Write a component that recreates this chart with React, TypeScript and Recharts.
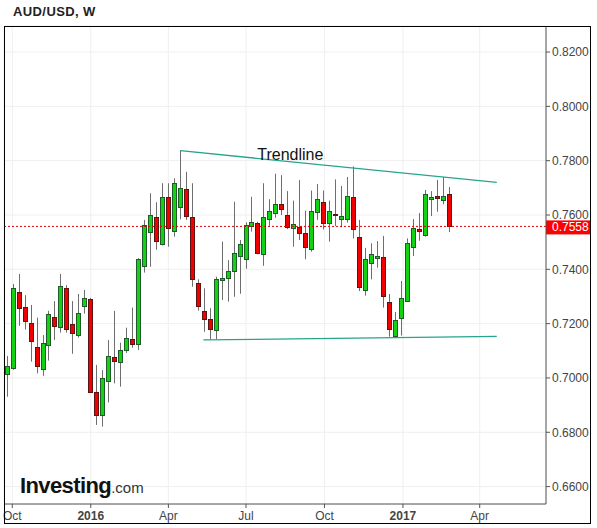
import React from 'react';
import {
  ComposedChart,
  Bar,
  XAxis,
  YAxis,
  CartesianGrid,
  ReferenceLine,
  ReferenceDot,
} from 'recharts';

// weekly candles, first week starts 25 Sep 2015
const firstWeek = Date.UTC(2015, 8, 25);
const WEEK = 7 * 86400000;

const opens = [
  0.7013, 0.7036, 0.7315, 0.726, 0.7201, 0.7113, 0.7032, 0.712, 0.7224, 0.7187,
  0.733, 0.7198, 0.7159, 0.7266, 0.729, 0.6947, 0.6862, 0.6988, 0.7076, 0.706,
  0.7102, 0.7142, 0.7124, 0.7411, 0.7536, 0.7591, 0.7493, 0.7665, 0.7541, 0.7628,
  0.7696, 0.7591, 0.7349, 0.7245, 0.7216, 0.7177, 0.736, 0.7367, 0.7393, 0.7448,
  0.7437, 0.7559, 0.7569, 0.7455, 0.7584, 0.7606, 0.7639, 0.7599, 0.7551, 0.7555,
  0.7533, 0.7476, 0.7611, 0.7648, 0.7569, 0.7604, 0.7586, 0.7584, 0.7666, 0.7518,
  0.7325, 0.7422, 0.7441, 0.7444, 0.7279, 0.7156, 0.722, 0.7284, 0.7483, 0.7547,
  0.7527, 0.766, 0.7669, 0.7654, 0.7676,
];
const highs = [
  0.7081, 0.7346, 0.7383, 0.7305, 0.7269, 0.7222, 0.7158, 0.7247, 0.7283, 0.7383,
  0.7342, 0.7283, 0.7309, 0.7324, 0.7295, 0.7048, 0.7029, 0.714, 0.7247, 0.713,
  0.7185, 0.7259, 0.7441, 0.7582, 0.768, 0.7647, 0.7717, 0.7717, 0.7735, 0.7839,
  0.7759, 0.7717, 0.7363, 0.733, 0.7257, 0.7373, 0.7502, 0.7434, 0.7649, 0.7508,
  0.7573, 0.7667, 0.7575, 0.7717, 0.7658, 0.7752, 0.7747, 0.7688, 0.7653, 0.7729,
  0.7616, 0.769, 0.7714, 0.769, 0.7653, 0.7731, 0.7707, 0.774, 0.7779, 0.7582,
  0.7479, 0.7496, 0.7504, 0.7523, 0.7309, 0.7243, 0.7357, 0.7514, 0.7585, 0.7607,
  0.7692, 0.7688, 0.7729, 0.774, 0.7703,
];
const lows = [
  0.6931, 0.703, 0.7192, 0.7178, 0.706, 0.7017, 0.7008, 0.7064, 0.714, 0.7167,
  0.7167, 0.7089, 0.7148, 0.7237, 0.6945, 0.6827, 0.6821, 0.691, 0.698, 0.6968,
  0.7092, 0.7111, 0.7103, 0.7388, 0.741, 0.7472, 0.7488, 0.7483, 0.752, 0.7584,
  0.7582, 0.7336, 0.7248, 0.717, 0.7142, 0.7142, 0.7287, 0.7281, 0.7299, 0.731,
  0.7402, 0.7539, 0.7455, 0.7413, 0.756, 0.759, 0.76, 0.7548, 0.7483, 0.7508,
  0.7437, 0.7465, 0.7582, 0.7547, 0.7502, 0.756, 0.7555, 0.7572, 0.7514, 0.732,
  0.7303, 0.7363, 0.7406, 0.7259, 0.7152, 0.7152, 0.7156, 0.7281, 0.7449, 0.7505,
  0.752, 0.7596, 0.7612, 0.764, 0.7537,
];
const closes = [
  0.7043, 0.733, 0.7256, 0.7209, 0.7135, 0.7043, 0.7128, 0.7234, 0.719, 0.7338,
  0.7181, 0.7167, 0.7238, 0.7293, 0.6947, 0.6865, 0.6999, 0.708, 0.7064, 0.7102,
  0.7146, 0.7124, 0.7437, 0.7562, 0.7599, 0.7503, 0.7665, 0.7551, 0.7717, 0.7701,
  0.7597, 0.7363, 0.7264, 0.7216, 0.7179, 0.7363, 0.7368, 0.7393, 0.7459, 0.7492,
  0.7565, 0.7573, 0.7459, 0.7591, 0.7615, 0.7639, 0.7621, 0.7557, 0.7566, 0.7535,
  0.7483, 0.7615, 0.7658, 0.7572, 0.7615, 0.7601, 0.7596, 0.767, 0.7547, 0.7334,
  0.7437, 0.7455, 0.7449, 0.7301, 0.7179, 0.7212, 0.7293, 0.7496, 0.7552, 0.7542,
  0.7676, 0.7667, 0.7664, 0.7669, 0.7558,
];

const xTicks = [
  Date.UTC(2015, 9, 1),
  Date.UTC(2016, 0, 1),
  Date.UTC(2016, 3, 1),
  Date.UTC(2016, 6, 1),
  Date.UTC(2016, 9, 1),
  Date.UTC(2017, 0, 1),
  Date.UTC(2017, 3, 1),
];
const xTickLabels = ['Oct', '2016', 'Apr', 'Jul', 'Oct', '2017', 'Apr'];
const yTicks = [0.66, 0.68, 0.7, 0.72, 0.74, 0.76, 0.78, 0.8, 0.82];

const lastPrice = 0.7558;

const upperTrend = [
  { x: Date.UTC(2016, 3, 15), y: 0.7837 },
  { x: Date.UTC(2017, 3, 21), y: 0.772 },
];
const lowerTrend = [
  { x: Date.UTC(2016, 4, 12), y: 0.714 },
  { x: Date.UTC(2017, 3, 21), y: 0.7153 },
];
const trendLabel = { x: Date.UTC(2016, 7, 22), y: 0.7825, text: 'Trendline' };

const xDomain = [Date.UTC(2015, 8, 21, 7), Date.UTC(2017, 5, 17, 17)];
const yDomain = [0.65359, 0.82959];

const data = opens.map((open, i) => ({
  date: firstWeek + i * WEEK,
  open,
  high: highs[i],
  low: lows[i],
  close: closes[i],
  range: [lows[i], highs[i]],
}));

const GREEN = '#12d212';
const GREEN_EDGE = '#1f5a2a';
const RED = '#f20000';
const RED_EDGE = '#5a1414';

function Candle(props: any) {
  const { x, y, width, height, payload } = props;
  if (x == null || y == null) return null;
  const { open, close, high, low } = payload;
  const top = Math.min(y, y + height);
  const h = Math.abs(height);
  const toY = (p: number) => top + ((high - p) / (high - low)) * h;
  const cx = Math.round(x + width / 2);
  const up = close >= open;
  const bodyTop = Math.round(toY(Math.max(open, close)));
  const bodyBottom = Math.round(toY(Math.min(open, close)));
  const bodyH = Math.max(1, bodyBottom - bodyTop);
  return (
    <g>
      <line x1={cx + 0.5} x2={cx + 0.5} y1={top} y2={top + h} stroke="#6e6e6e" strokeWidth={1} />
      <rect
        x={cx - 1.5}
        y={bodyTop + 0.5}
        width={4}
        height={bodyH}
        fill={up ? GREEN : RED}
        stroke={up ? GREEN_EDGE : RED_EDGE}
        strokeWidth={1}
      />
    </g>
  );
}

function XTick({ x, y, payload }: any) {
  const label = xTickLabels[xTicks.indexOf(payload.value)];
  const bold = /^\d{4}$/.test(label);
  return (
    <text x={x} y={y} dy="0.71em" textAnchor="middle" fontSize={12} fontWeight={bold ? 700 : 400} fill="#444">
      {label}
    </text>
  );
}

function PriceTag(props: any) {
  const { viewBox } = props;
  if (!viewBox) return null;
  const left = viewBox.x + viewBox.width;
  return (
    <g>
      <rect x={left} y={viewBox.y - 6} width={45} height={14} fill="#ff0000" />
      <text x={left + 6} y={viewBox.y + 5} fontSize={12} fill="#fff">
        {lastPrice.toFixed(4)}
      </text>
    </g>
  );
}

export default function App() {
  return (
    <div
      style={{
        position: 'absolute',
        left: 0,
        top: 0,
        width: 597,
        height: 528,
        background: '#fff',
        fontFamily: '"Liberation Sans", Arial, sans-serif',
      }}
    >
      <div style={{ position: 'absolute', left: 13, top: 4, fontSize: 13, fontWeight: 700, color: '#222', letterSpacing: 0.4 }}>
        AUD/USD, W
      </div>
      <ComposedChart
        width={597}
        height={528}
        data={data}
        margin={{ top: 26, right: 6, bottom: 4, left: 4 }}
      >
        <CartesianGrid stroke="#efefef" />
        <XAxis
          dataKey="date"
          type="number"
          domain={xDomain}
          allowDataOverflow
          ticks={xTicks}
          interval={0}
          tick={<XTick />}
          tickSize={4}
          tickMargin={3}
          height={20}
          stroke="#555"
        />
        <YAxis
          orientation="right"
          type="number"
          domain={yDomain}
          allowDataOverflow
          ticks={yTicks}
          interval={0}
          tickFormatter={(v: number) => v.toFixed(4)}
          tick={{ fontSize: 12, fill: '#444' }}
          tickSize={4}
          tickMargin={2}
          width={45}
          stroke="#555"
        />
        <ReferenceLine y={lastPrice} stroke="#e00000" strokeDasharray="2 2" label={<PriceTag />} />
        <ReferenceLine segment={upperTrend} stroke="#26a48c" strokeWidth={1.3} />
        <ReferenceLine segment={lowerTrend} stroke="#26a48c" strokeWidth={1.3} />
        <ReferenceDot
          x={trendLabel.x}
          y={trendLabel.y}
          r={0}
          fill="none"
          stroke="none"
          label={{ value: trendLabel.text, position: 'center', fontSize: 16, fill: '#111' }}
        />
        <Bar dataKey="range" barSize={5} shape={<Candle />} isAnimationActive={false} />
      </ComposedChart>
      <div
        style={{
          position: 'absolute',
          left: 4,
          top: 26,
          width: 587,
          height: 498,
          border: '1px solid #000',
          boxSizing: 'border-box',
          pointerEvents: 'none',
        }}
      />
      <div style={{ position: 'absolute', left: 20, top: 473, whiteSpace: 'nowrap', color: '#111' }}>
        <span style={{ fontSize: 22, fontWeight: 700, letterSpacing: -0.6 }}>Investing</span>
        <span style={{ fontSize: 15, color: '#333' }}>.com</span>
      </div>
    </div>
  );
}
